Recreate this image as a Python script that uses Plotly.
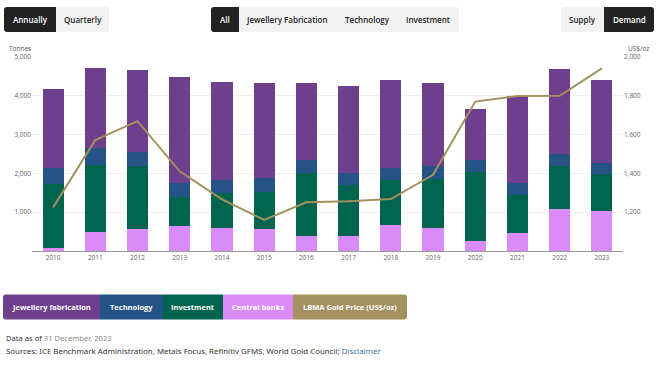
import plotly.graph_objects as go

years = [str(y) for y in range(2010, 2024)]
jewellery = [2034, 2077, 2110, 2734, 2529, 2453, 1992, 2248, 2282, 2136, 1325, 2232, 2189, 2144]
technology = [410, 426, 385, 359, 343, 342, 325, 316, 316, 334, 307, 315, 316, 292]
investment = [1648, 1744, 1615, 769, 898, 966, 1616, 1316, 1161, 1265, 1778, 983, 1102, 948]
central_banks = [79, 479, 564, 633, 597, 564, 392, 376, 659, 598, 248, 453, 1077, 1034]
gold_price = [1225, 1572, 1669, 1411, 1266, 1160, 1251, 1257, 1268, 1393, 1770, 1799, 1800, 1941]

left_ticks = [1000, 2000, 3000, 4000, 5000]
right_ticks = [1200, 1400, 1600, 1800, 2000]

C_JEW = "#6e3f8c"
C_TEC = "#255385"
C_INV = "#00644f"
C_CB = "#d98cf7"
C_GOLD = "#a3915f"

W, H = 660, 371
L, R, T, B = 32, 623, 57, 251


def px(x):
    return (x - L) / (R - L)


def py(y):
    return (B - y) / (B - T)


fig = go.Figure()
fig.add_bar(x=years, y=central_banks, name="Central banks", marker=dict(color=C_CB, line=dict(width=0)))
fig.add_bar(x=years, y=investment, name="Investment", marker=dict(color=C_INV, line=dict(width=0)))
fig.add_bar(x=years, y=technology, name="Technology", marker=dict(color=C_TEC, line=dict(width=0)))
fig.add_bar(x=years, y=jewellery, name="Jewellery fabrication", marker=dict(color=C_JEW, line=dict(width=0)))
fig.add_scatter(x=years, y=gold_price, name="LBMA Gold Price (US$/oz)", yaxis="y2",
                mode="lines", line=dict(color=C_GOLD, width=2))

shapes = []
annotations = []
FONT = "Open Sans"


def rpath(x0, x1, y0, y1, rl, rr, r=3):
    """pixel rect with optional rounded left/right corners -> paper path"""
    def P(x, y):
        return f"{px(x):.5f},{py(y):.5f}"
    a = r if rl else 0
    b = r if rr else 0
    d = f"M {P(x0 + a, y0)} L {P(x1 - b, y0)} "
    d += f"Q {P(x1, y0)} {P(x1, y0 + b)} " if b else ""
    d += f"L {P(x1, y1 - b)} "
    d += f"Q {P(x1, y1)} {P(x1 - b, y1)} " if b else ""
    d += f"L {P(x0 + a, y1)} "
    d += f"Q {P(x0, y1)} {P(x0, y1 - a)} " if a else ""
    d += f"L {P(x0, y0 + a)} "
    d += f"Q {P(x0, y0)} {P(x0 + a, y0)} " if a else ""
    return d + "Z"


def button(x0, x1, y0, y1, fill, text=None, tcolor="#222", size=8, weight=600, rl=False, rr=False):
    shapes.append(dict(type="path", xref="paper", yref="paper", path=rpath(x0, x1, y0, y1, rl, rr),
                       fillcolor=fill, line=dict(width=0), layer="above"))
    if text:
        annotations.append(dict(xref="paper", yref="paper", x=px((x0 + x1) / 2),
                                y=py((y0 + y1) / 2), text=text, showarrow=False,
                                xanchor="center", yanchor="middle",
                                font=dict(family=FONT, size=size, color=tcolor, weight=weight)))


# top buttons
BY0, BY1 = 7, 32
button(4, 56, BY0, BY1, "#222222", "Annually", "#ffffff", rl=True)
button(56, 109, BY0, BY1, "#f2f2f2", "Quarterly", "#222", rr=True)
button(211, 239, BY0, BY1, "#222222", "All", "#ffffff", rl=True)
button(239, 459, BY0, BY1, "#f2f2f2", rr=True)
for t, c in [("Jewellery Fabrication", 287), ("Technology", 367), ("Investment", 428)]:
    annotations.append(dict(xref="paper", yref="paper", x=px(c), y=py((BY0 + BY1) / 2), text=t,
                            showarrow=False, xanchor="center", yanchor="middle",
                            font=dict(family=FONT, size=8, color="#222", weight=600)))
button(561, 604, BY0, BY1, "#f2f2f2", "Supply", "#222", rl=True)
button(604, 654, BY0, BY1, "#222222", "Demand", "#ffffff", rr=True)

# legend bar
leg = [("Jewellery fabrication", 3, 100, C_JEW),
       ("Technology", 100, 163, C_TEC),
       ("Investment", 163, 223, C_INV),
       ("Central banks", 223, 293, C_CB),
       ("LBMA Gold Price (US$/oz)", 293, 407, C_GOLD)]
for i, (t, a, b, col) in enumerate(leg):
    button(a, b, 294.5, 319.5, col, t, "#ffffff", size=7.5, weight=700,
           rl=(i == 0), rr=(i == len(leg) - 1))

# axis titles
annotations.append(dict(xref="paper", yref="paper", x=px(33), y=py(48.5), text="Tonnes", showarrow=False,
                        xanchor="right", yanchor="middle", font=dict(family=FONT, size=6.5, color="#555")))
annotations.append(dict(xref="paper", yref="paper", x=px(626), y=py(48.5), text="US$/oz", showarrow=False,
                        xanchor="left", yanchor="middle", font=dict(family=FONT, size=6.5, color="#555")))

# footer
annotations.append(dict(xref="paper", yref="paper", x=px(3.5), y=py(338),
                        text="Data as of <span style='color:#888888'>31 December, 2023</span>",
                        showarrow=False, xanchor="left", yanchor="middle",
                        font=dict(family="Noto Sans", size=7.6, color="#333")))
annotations.append(dict(xref="paper", yref="paper", x=px(3.5), y=py(351),
                        text="Sources: ICE Benchmark Administration, Metals Focus, Refinitiv GFMS, World Gold Council; "
                             "<span style='color:#3d6fa6'>Disclaimer</span>",
                        showarrow=False, xanchor="left", yanchor="middle",
                        font=dict(family="Noto Sans", size=7.9, color="#333")))

fig.update_layout(
    width=W, height=H,
    margin=dict(l=L, r=W - R, t=T, b=H - B, pad=0),
    paper_bgcolor="white", plot_bgcolor="white",
    barmode="stack", bargap=0.5,
    showlegend=False,
    font=dict(family=FONT, color="#666"),
    xaxis=dict(type="category", showgrid=False, showline=True, linecolor="#9a9a9a", linewidth=1,
               ticks="", tickfont=dict(size=6.5, color="#666")),
    yaxis=dict(range=[0, 5000], tickvals=left_ticks, tickformat=",", showgrid=True,
               gridcolor="#eeeeee", gridwidth=1, zeroline=False, showline=False,
               tickfont=dict(size=6.5, color="#666"), fixedrange=True),
    yaxis2=dict(range=[1000, 2000], tickvals=right_ticks, tickformat=",", overlaying="y", side="right",
                showgrid=False, zeroline=False, showline=False,
                tickfont=dict(size=6.5, color="#666")),
    shapes=shapes, annotations=annotations,
)

fig.write_html("out.html", config={"displayModeBar": False},
               post_script="document.body.style.margin='0';document.body.style.overflow='hidden';")
